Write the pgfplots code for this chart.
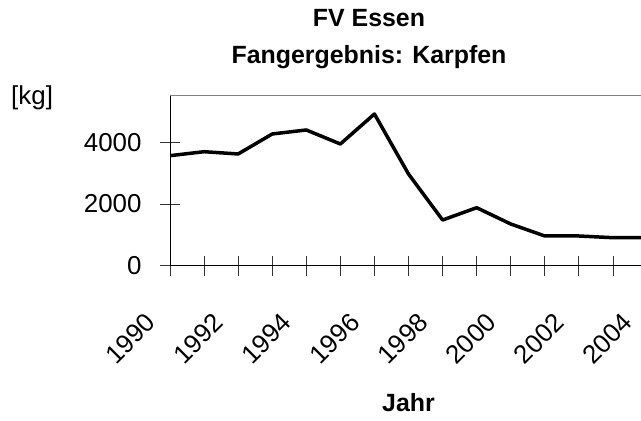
\documentclass[border=0pt]{standalone}
\usepackage{fontspec}
\setmainfont{Liberation Sans}
\usepackage{pgfplots}
\pgfplotsset{compat=1.18}
\begin{document}
\begin{tikzpicture}[x=1bp,y=1bp]
\useasboundingbox (0,0) rectangle (641,420);
\begin{axis}[
  at={(170bp,154.3bp)}, anchor=south west,
  scale only axis, width=477bp, height=170bp,
  xmin=1990, xmax=2004, ymin=0, ymax=5510,
  axis line style={draw=none},
  xtick pos=bottom, ytick pos=left,
  xtick={1990,1991,...,2004},
  xticklabels={1990,,1992,,1994,,1996,,1998,,2000,,2002,,2004},
  ytick={0,2000,4000},
  tick align=center, major tick length=20bp,
  tick style={black!80, line width=0.8bp},
  /pgf/number format/assume math mode=true,
  /pgf/number format/1000 sep={},
  tick label style={font=\fontsize{26}{30}\selectfont},
  yticklabel style={anchor=east, xshift=-15bp},
  xticklabel style={anchor=east, xshift=-17bp, yshift=-40bp, rotate=45},
  clip=true,
]
\addplot[black, line width=3.5bp, line join=round] coordinates {
  (1990,3566) (1991,3695) (1992,3621) (1993,4269) (1994,4399)
  (1995,3945) (1996,4917) (1997,2972) (1998,1481) (1999,1880)
  (2000,1352) (2001,963) (2002,963) (2003,908) (2004,908)
};
\draw[black!50, line width=1.5bp] (rel axis cs:0,1) -- (rel axis cs:1,1);
\draw[black, line width=1bp] (rel axis cs:1,0) -- (rel axis cs:0,0) -- (rel axis cs:0,1);
\end{axis}
\node[font=\bfseries\fontsize{25}{30}\selectfont, anchor=base] at (369,393) {FV Essen};
\node[font=\bfseries\fontsize{25}{30}\selectfont, anchor=base] at (369,356.7) {Fangergebnis: Karpfen};
\node[font=\fontsize{26}{30}\selectfont, anchor=base west, inner sep=0pt] at (11,315.5) {[kg]};
\node[font=\bfseries\fontsize{25}{30}\selectfont, anchor=base] at (408.5,9) {Jahr};
\end{tikzpicture}
\end{document}
